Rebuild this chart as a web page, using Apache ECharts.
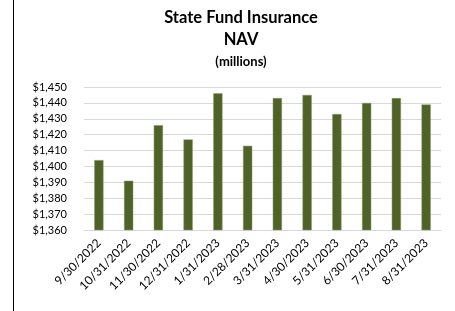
<!DOCTYPE html>
<html><head><meta charset="utf-8">
<script src="https://cdn.jsdelivr.net/npm/echarts@6/dist/echarts.min.js"></script>
<style>html,body{margin:0;padding:0;background:#fff}#c{width:455px;height:311px}</style>
</head><body><div id="c"></div>
<script>
const categories = ['9/30/2022','10/31/2022','11/30/2022','12/31/2022','1/31/2023','2/28/2023','3/31/2023','4/30/2023','5/31/2023','6/30/2023','7/31/2023','8/31/2023'];
const navValues = [1404, 1391, 1426, 1417, 1446, 1413, 1443, 1445, 1433, 1440, 1443, 1439];
const yMin = 1360, yMax = 1450, yStep = 10;

const chart = echarts.init(document.getElementById('c'));
const font = 'Lato, "Open Sans", sans-serif';
chart.setOption({
  animation: false,
  title: [
    {text: 'State Fund Insurance', left: 236, top: 4, textAlign: 'center',
     textStyle: {fontFamily: font, fontSize: 16.5, fontWeight: 'bold', color: '#000'}},
    {text: 'NAV', left: 236, top: 26, textAlign: 'center',
     textStyle: {fontFamily: font, fontSize: 16.5, fontWeight: 'bold', color: '#000'}},
    {text: '(millions)', left: 236, top: 50, textAlign: 'center',
     textStyle: {fontFamily: font, fontSize: 13, fontWeight: 'bold', color: '#000'}}
  ],
  graphic: [{type: 'line', shape: {x1: 13.5, y1: 0, x2: 13.5, y2: 311}, style: {stroke: '#000', lineWidth: 1}}],
  grid: {left: 84, right: 14, top: 87, bottom: 81, containLabel: false},
  xAxis: {
    type: 'category', data: categories,
    axisLine: {lineStyle: {color: '#d9d9d9'}},
    axisTick: {show: false},
    axisLabel: {rotate: 45, fontFamily: font, fontSize: 12, color: '#000', margin: 11, interval: 0}
  },
  yAxis: {
    type: 'value', min: yMin, max: yMax, interval: yStep,
    axisLine: {show: false}, axisTick: {show: false},
    splitLine: {lineStyle: {color: '#d9d9d9', width: 1}},
    axisLabel: {fontFamily: font, fontSize: 11, color: '#000', margin: 17,
      formatter: v => '$' + v.toLocaleString('en-US')}
  },
  series: [{
    type: 'bar', data: navValues, barWidth: '31%',
    itemStyle: {color: '#4f6228', borderColor: '#8a9a6a', borderWidth: 0.5}
  }]
});
</script></body></html>
